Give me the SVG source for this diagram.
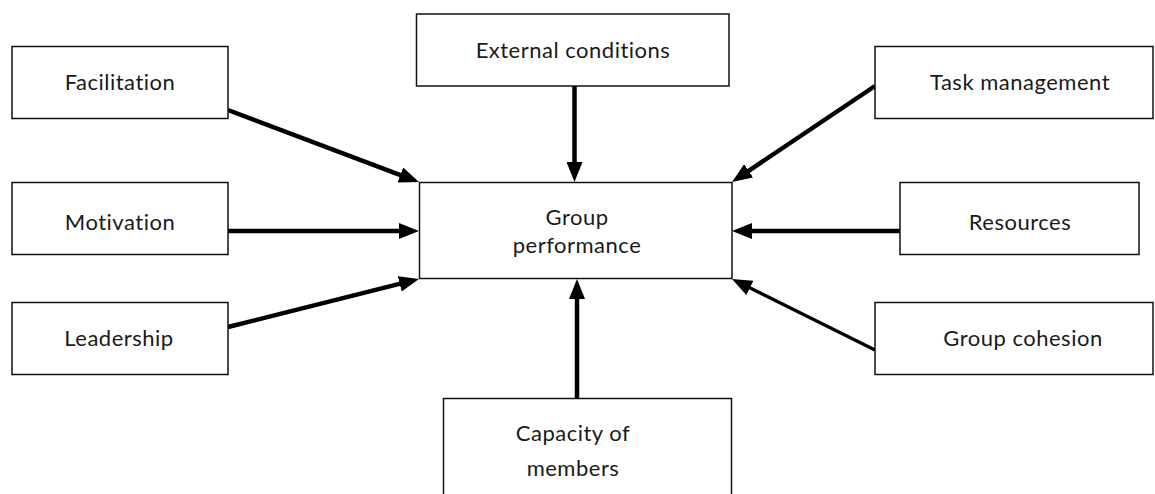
<svg xmlns="http://www.w3.org/2000/svg" width="1155" height="494" viewBox="0 0 1155 494">
  <style>
    .box { fill: #ffffff; stroke: #111111; stroke-width: 1.5; }
    .label { font-family: Lato, "Open Sans", sans-serif; font-size: 22px; letter-spacing: 0.5px; fill: #1a1a1a; text-anchor: middle; }
    .arrow { stroke: #000000; stroke-width: 4.5; fill: none; marker-end: url(#head); }
    .thin { stroke-width: 3.2; }
  </style>
  <defs>
    <marker id="head" viewBox="0 0 20 16" refX="8" refY="8" markerWidth="20" markerHeight="16" markerUnits="userSpaceOnUse" orient="auto">
      <path d="M0,0 L20,8 L0,16 z" fill="#000000"/>
    </marker>
  </defs>

  <rect width="1155" height="494" fill="#ffffff"/>

  <g id="connectors">
    <line class="arrow" x1="228" y1="110" x2="407.8" y2="177.8"/>
    <line class="arrow" x1="228" y1="231" x2="407" y2="231"/>
    <line class="arrow" x1="228" y1="327" x2="407.4" y2="281.9"/>
    <line class="arrow" x1="574.5" y1="86" x2="574.5" y2="170"/>
    <line class="arrow" x1="875" y1="86" x2="742" y2="175.3"/>
    <line class="arrow" x1="900" y1="231" x2="744" y2="231"/>
    <line class="arrow thin" x1="875" y1="350" x2="742.7" y2="284.3"/>
    <line class="arrow" x1="577" y1="398" x2="577" y2="291"/>
  </g>

  <g id="group-performance">
    <rect class="box" x="419.5" y="182.5" width="312.5" height="96"/>
    <text class="label" x="577" y="225">Group</text>
    <text class="label" x="577" y="253">performance</text>
  </g>

  <g id="facilitation">
    <rect class="box" x="12" y="46.5" width="216" height="72"/>
    <text class="label" x="120" y="90">Facilitation</text>
  </g>

  <g id="motivation">
    <rect class="box" x="12" y="182.5" width="216" height="72"/>
    <text class="label" x="120" y="230">Motivation</text>
  </g>

  <g id="leadership">
    <rect class="box" x="12" y="302.5" width="216" height="72"/>
    <text class="label" x="119" y="346">Leadership</text>
  </g>

  <g id="external-conditions">
    <rect class="box" x="416.5" y="14" width="312.5" height="72"/>
    <text class="label" x="573" y="58">External conditions</text>
  </g>

  <g id="task-management">
    <rect class="box" x="875" y="46.5" width="278" height="72"/>
    <text class="label" x="1020" y="90">Task management</text>
  </g>

  <g id="resources">
    <rect class="box" x="900" y="182.5" width="239" height="72"/>
    <text class="label" x="1020" y="230">Resources</text>
  </g>

  <g id="group-cohesion">
    <rect class="box" x="875" y="302.5" width="278" height="72"/>
    <text class="label" x="1023" y="346">Group cohesion</text>
  </g>

  <g id="capacity-of-members">
    <path class="box" d="M443.5,498 L443.5,398.5 L731.5,398.5 L731.5,498"/>
    <text class="label" x="573" y="441">Capacity of</text>
    <text class="label" x="573" y="476">members</text>
  </g>
</svg>
